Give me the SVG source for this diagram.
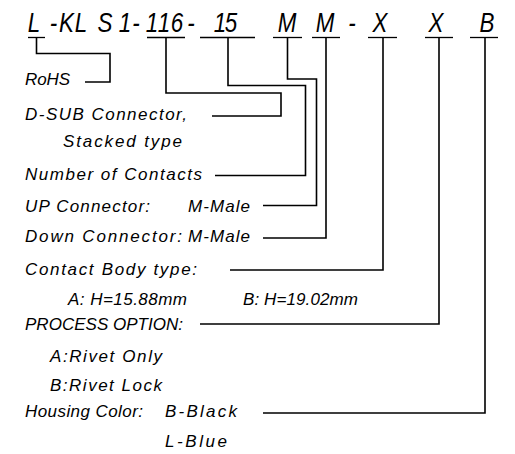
<svg xmlns="http://www.w3.org/2000/svg" width="515" height="454" viewBox="0 0 515 454">
<style>
  text { font-family: "Liberation Sans", Arial, sans-serif; font-style: italic; fill: #000; }
  .code { font-size: 28px; }
  .lbl { font-size: 17px; }
  .ul { stroke: #000; stroke-width: 1.3; fill: none; }
  .cn { stroke: #000; stroke-width: 1.6; fill: none; stroke-linejoin: miter; }
</style>
<rect width="515" height="454" fill="#fff"/>
<g id="part-number">
  <text class="code" transform="scale(0.8,1)" y="32" text-anchor="middle" x="42.5 66.88 83.13 101.25 131.25 156.25 170 190 205 221.25 238.75 256.25 275 288.75 325 358.75 382.5 406.25 422.5 440 457.5 475 510 545 576.25 608.75">L-KLS1-116- 15 M M - X X B</text>
  <g id="underlines">
    <line class="ul" x1="28" y1="37.5" x2="45" y2="37.5"/>
    <line class="ul" x1="147" y1="37.5" x2="185" y2="37.5"/>
    <line class="ul" x1="200" y1="37.5" x2="255" y2="37.5"/>
    <line class="ul" x1="273" y1="37.5" x2="302" y2="37.5"/>
    <line class="ul" x1="312" y1="37.5" x2="340" y2="37.5"/>
    <line class="ul" x1="368" y1="37.5" x2="397" y2="37.5"/>
    <line class="ul" x1="425" y1="37.5" x2="453" y2="37.5"/>
    <line class="ul" x1="470" y1="37.5" x2="498" y2="37.5"/>
  </g>
</g>
<g id="connectors">
  <path class="cn" d="M36.5,37.5 V53.5 H110 V82 H85"/>
  <path class="cn" d="M166,37.5 V93 H281 V116 H212"/>
  <path class="cn" d="M228,37.5 V85.5 H305.5 V175.5 H215"/>
  <path class="cn" d="M287.5,37.5 V79 H316.5 V205.5 H263"/>
  <path class="cn" d="M326,37.5 V238 H263"/>
  <path class="cn" d="M383,37.5 V270 H230"/>
  <path class="cn" d="M439,37.5 V324 H200"/>
  <path class="cn" d="M485,37.5 V413 H263"/>
</g>
<g id="rohs"><text class="lbl" x="25" y="85" textLength="45" lengthAdjust="spacing">RoHS</text></g>
<g id="dsub">
  <text class="lbl" x="25" y="120" textLength="162" lengthAdjust="spacing">D-SUB Connector,</text>
  <text class="lbl" x="63" y="147" textLength="119" lengthAdjust="spacing">Stacked type</text>
</g>
<g id="contacts"><text class="lbl" x="25" y="180" textLength="177" lengthAdjust="spacing">Number of Contacts</text></g>
<g id="up">
  <text class="lbl" x="25" y="211.5" textLength="125" lengthAdjust="spacing">UP Connector:</text>
  <text class="lbl" x="188" y="211.5" textLength="62" lengthAdjust="spacing">M-Male</text>
</g>
<g id="down">
  <text class="lbl" x="25" y="241.5" textLength="157" lengthAdjust="spacing">Down Connector:</text>
  <text class="lbl" x="188" y="241.5" textLength="62" lengthAdjust="spacing">M-Male</text>
</g>
<g id="body">
  <text class="lbl" x="25" y="275" textLength="172" lengthAdjust="spacing">Contact Body type:</text>
  <text class="lbl" x="68" y="305" textLength="119" lengthAdjust="spacing">A: H=15.88mm</text>
  <text class="lbl" x="243" y="305" textLength="115" lengthAdjust="spacing">B: H=19.02mm</text>
</g>
<g id="process">
  <text class="lbl" x="25" y="330" textLength="158" lengthAdjust="spacing">PROCESS OPTION:</text>
  <text class="lbl" x="50" y="361.5" textLength="112" lengthAdjust="spacing">A:Rivet Only</text>
  <text class="lbl" x="50" y="390.5" textLength="112" lengthAdjust="spacing">B:Rivet Lock</text>
</g>
<g id="housing">
  <text class="lbl" x="25" y="416.5" textLength="118" lengthAdjust="spacing">Housing Color:</text>
  <text class="lbl" x="165" y="416.5" textLength="72" lengthAdjust="spacing">B-Black</text>
  <text class="lbl" x="165" y="446.5" textLength="62" lengthAdjust="spacing">L-Blue</text>
</g>
</svg>
